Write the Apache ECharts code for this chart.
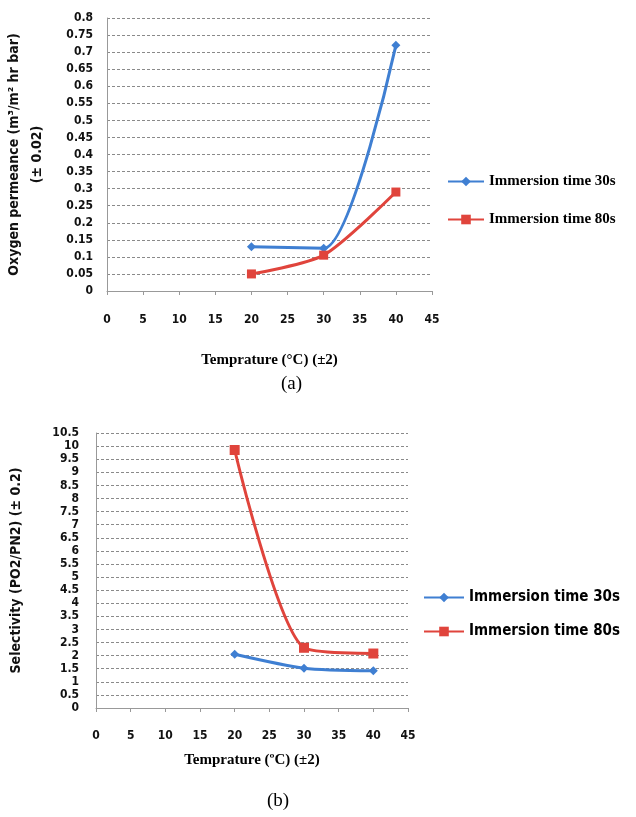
<!DOCTYPE html>
<html>
<head>
<meta charset="utf-8">
<script src="https://cdn.jsdelivr.net/npm/echarts@6/dist/echarts.min.js"></script>
<style>
  html, body { margin: 0; padding: 0; background: #fff; }
  #chart { width: 636px; height: 817px; }
</style>
</head>
<body>
<div id="chart"></div>
<script>
// 温度 (x), shared by both panels
const temps = [20, 30, 40];

// panel (a): oxygen permeance
const permeance30 = [0.13, 0.125, 0.72];
const permeance80 = [0.05, 0.105, 0.29];

// panel (b): selectivity
const selectivity30 = [2.05, 1.52, 1.42];
const selectivity80 = [9.85, 2.3, 2.08];

const legendNames = { a30: 'Immersion time 30s', a80: 'Immersion time 80s', b30: 'Immersion time 30s', b80: 'Immersion time 80s' };

const blue = '#3f7fd2';
const red = '#e0443c';
const labelFont = 'DejaVu Sans Condensed';

const pairs = (xs, ys) => xs.map((x, i) => [x, ys[i]]);

const xAxisBase = {
  type: 'value', min: 0, max: 45, interval: 5,
  axisLine: { show: true, lineStyle: { color: '#999' } },
  axisTick: { show: true, length: 4, lineStyle: { color: '#999' } },
  splitLine: { show: false },
  nameLocation: 'middle',
  nameTextStyle: { fontFamily: 'Liberation Serif', fontWeight: 'bold', fontSize: 15, color: '#000' },
  axisLabel: { fontFamily: labelFont, fontWeight: 'bold', fontSize: 12, color: '#111' }
};
const yAxisBase = {
  type: 'value', min: 0,
  axisLine: { show: true, lineStyle: { color: '#999' } },
  axisTick: { show: false },
  splitLine: { show: true, lineStyle: { color: '#8a8a8a', type: [3, 2], width: 1 } },
  nameLocation: 'middle', nameRotate: 90,
  nameTextStyle: { fontFamily: labelFont, fontWeight: 'bold', fontSize: 14, color: '#111', lineHeight: 23 },
  axisLabel: { fontFamily: labelFont, fontWeight: 'bold', fontSize: 12, color: '#111' }
};

const chart = echarts.init(document.getElementById('chart'));
chart.setOption({
  animation: false,
  title: [
    { text: '(a)', left: 276, top: 370, textStyle: { fontFamily: 'Liberation Serif', fontWeight: 'normal', fontSize: 19, color: '#000' } },
    { text: '(b)', left: 262, top: 787, textStyle: { fontFamily: 'Liberation Serif', fontWeight: 'normal', fontSize: 19, color: '#000' } }
  ],
  grid: [
    { left: 107, top: 18, right: 204, bottom: 526, outerBoundsMode: 'none', containLabel: false },
    { left: 96, top: 433, right: 228, bottom: 109, outerBoundsMode: 'none', containLabel: false }
  ],
  xAxis: [
    Object.assign({}, xAxisBase, { gridIndex: 0, name: 'Temprature (°C) (±2)', nameGap: 62, axisLabel: Object.assign({}, xAxisBase.axisLabel, { margin: 23 }) }),
    Object.assign({}, xAxisBase, { gridIndex: 1, name: 'Temprature (ºC) (±2)', nameGap: 45, axisLabel: Object.assign({}, xAxisBase.axisLabel, { margin: 22 }) })
  ],
  yAxis: [
    Object.assign({}, yAxisBase, {
      gridIndex: 0, max: 0.8, interval: 0.05,
      name: 'Oxygen permeance (m³/m² hr bar)\n(± 0.02)', nameGap: 58,
      axisLabel: Object.assign({}, yAxisBase.axisLabel, { margin: 14 })
    }),
    Object.assign({}, yAxisBase, {
      gridIndex: 1, max: 10.5, interval: 0.5,
      name: 'Selectivity (PO2/PN2) (± 0.2)', nameGap: 68,
      axisLabel: Object.assign({}, yAxisBase.axisLabel, { margin: 17, fontSize: 12, lineHeight: 12 })
    })
  ],
  legend: [
    {
      data: ['a30', 'a80'], orient: 'vertical', left: 442, top: 169,
      itemWidth: 36, itemHeight: 12, itemGap: 23,
      formatter: n => legendNames[n],
      textStyle: { fontFamily: 'Liberation Serif', fontWeight: 'bold', fontSize: 15, color: '#000' }
    },
    {
      data: ['b30', 'b80'], orient: 'vertical', left: 418, top: 585,
      itemWidth: 40, itemHeight: 12, itemGap: 19,
      formatter: n => legendNames[n],
      textStyle: { fontFamily: labelFont, fontWeight: 'bold', fontSize: 15, color: '#000' }
    }
  ],
  series: [
    { name: 'a30', type: 'line', xAxisIndex: 0, yAxisIndex: 0, data: pairs(temps, permeance30), smooth: 0.25,
      symbol: 'diamond', symbolSize: 9, itemStyle: { color: blue }, lineStyle: { color: blue, width: 3 } },
    { name: 'a80', type: 'line', xAxisIndex: 0, yAxisIndex: 0, data: pairs(temps, permeance80), smooth: 0.25,
      symbol: 'rect', symbolSize: 9, itemStyle: { color: red }, lineStyle: { color: red, width: 3 } },
    { name: 'b30', type: 'line', xAxisIndex: 1, yAxisIndex: 1, data: pairs(temps, selectivity30), smooth: 0.25,
      symbol: 'diamond', symbolSize: 9, itemStyle: { color: blue }, lineStyle: { color: blue, width: 3 } },
    { name: 'b80', type: 'line', xAxisIndex: 1, yAxisIndex: 1, data: pairs(temps, selectivity80), smooth: 0.25,
      symbol: 'rect', symbolSize: 10, itemStyle: { color: red }, lineStyle: { color: red, width: 3 } }
  ]
});
</script>
</body>
</html>
